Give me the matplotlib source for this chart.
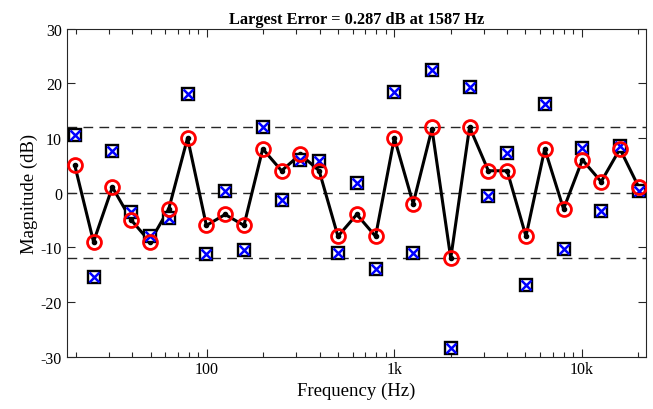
import numpy as np
import matplotlib
matplotlib.use("Agg")
import matplotlib.pyplot as plt
from matplotlib.ticker import FixedLocator, LogLocator, NullFormatter, FixedFormatter

# 1/3-octave band centre frequencies (Hz)
freqs = [19.69, 24.80, 31.25, 39.37, 49.61, 62.50, 78.75, 99.21, 125.0, 157.5,
         198.4, 250.0, 315.0, 396.9, 500.0, 630.0, 793.7, 1000.0, 1260.0, 1587.4,
         2000.0, 2520.0, 3175.0, 4000.0, 5040.0, 6350.0, 8000.0, 10079.0, 12699.0,
         16000.0, 20159.0]

# Command (target) gains, dB
target = [5, -9, 1, -5, -9, -3, 10, -6, -4, -6,
          8, 4, 7, 4, -8, -4, -8, 10, -2, 12,
          -12, 12, 4, 4, -8, 8, -3, 6, 2, 8, 1]

# Optimised filter gains, dB
filter_gains = [10.5, -15.5, 7.6, -3.6, -8.0, -4.6, 18.0, -11.3, 0.3, -10.5,
                12.0, -1.4, 6.0, 5.8, -11.1, 1.8, -14.0, 18.5, -11.1, 22.4,
                -28.5, 19.3, -0.6, 7.3, -17.0, 16.3, -10.3, 8.2, -3.3, 8.5, 0.3]

# Resulting magnitude response at band centres, dB
response = [5.0, -9.0, 1.0, -5.0, -9.0, -3.0, 10.0, -6.0, -4.0, -6.0,
            8.0, 4.0, 7.0, 4.0, -8.0, -4.0, -8.0, 10.0, -2.0, 11.7,
            -12.0, 12.0, 4.0, 4.0, -8.0, 8.0, -3.0, 6.0, 2.0, 8.0, 1.0]

title_text = "Largest Error = 0.287 dB at 1587 Hz"
xtick_vals = [100, 1000, 10000]
xtick_labels = ["100", "1k", "10k"]
ytick_vals = [-30, -20, -10, 0, 10, 20, 30]
guide_levels = [12, 0, -12]

plt.rcParams['font.family'] = ['Liberation Serif', 'DejaVu Serif']

fig = plt.figure(figsize=(6.53, 4.10), dpi=100)
ax = fig.add_axes([0.1022, 0.128, 0.8866, 0.7995])

for g in guide_levels:
    ax.axhline(g, color='0.15', lw=1.0, dashes=(7, 4.5), zorder=1)

ax.plot(freqs, response, color='black', lw=2.2, marker='.', ms=6, zorder=3)

ax.plot(freqs, filter_gains, ls='none', marker='s', ms=9, mfc='white',
        mec='black', mew=1.7, zorder=4)
ax.plot(freqs, filter_gains, ls='none', marker='x', ms=6.5, mec='blue',
        mew=1.8, zorder=6)

ax.plot(freqs, target, ls='none', marker='o', ms=10, mfc='none', mec='red',
        mew=2.0, zorder=7)

ax.set_xscale('log')
ax.set_xlim(17.84, 21950)
ax.set_ylim(-30, 30)

ax.xaxis.set_major_locator(FixedLocator(xtick_vals))
ax.xaxis.set_major_formatter(FixedFormatter(xtick_labels))
ax.xaxis.set_minor_locator(LogLocator(base=10, subs=np.arange(2, 10)))
ax.xaxis.set_minor_formatter(NullFormatter())
ax.set_yticks(ytick_vals)
ax.set_yticklabels([str(v) for v in ytick_vals])

ax.tick_params(which='both', direction='in', top=True, right=True,
               labelsize=11.5, color='0.15', width=0.8)
ax.tick_params(which='major', length=6)
ax.tick_params(which='minor', length=3.5)
for s in ax.spines.values():
    s.set_color('0.15')
    s.set_linewidth(0.8)

ax.set_xlabel("Frequency (Hz)", fontsize=13.5, labelpad=3)
ax.set_ylabel("Magnitude (dB)", fontsize=13.5, labelpad=2)
ax.set_title(title_text, fontsize=11.8, fontweight='bold', pad=4)

fig.savefig("out.png", dpi=100)
